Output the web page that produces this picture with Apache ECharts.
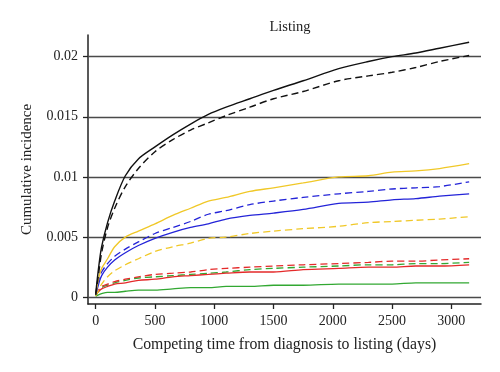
<!DOCTYPE html>
<html>
<head>
<meta charset="utf-8">
<script src="https://cdn.jsdelivr.net/npm/echarts@6/dist/echarts.min.js"></script>
<style>html,body{margin:0;padding:0;background:#fff}#c{width:500px;height:372px}</style>
</head>
<body>
<div id="c"></div>
<script>
const days = [0, 25, 50, 100, 160, 250, 360, 500, 650, 800, 950, 1100, 1300, 1500, 1750, 2050, 2300, 2500, 2700, 2900, 3150];
const blackSolid  = [0.0003,0.0025,0.0042,0.0062,0.0080,0.0101,0.0115,0.0125,0.0135,0.0144,0.0152,0.0158,0.0165,0.0172,0.0180,0.0190,0.0196,0.0200,0.0203,0.0207,0.0212];
const blackDashed = [0.0002,0.0020,0.0037,0.0058,0.0074,0.0092,0.0107,0.0121,0.0131,0.0139,0.0145,0.0151,0.0158,0.0165,0.0171,0.0180,0.0184,0.0187,0.0191,0.0196,0.0201];
const yellowSolid = [0.0002,0.0016,0.0024,0.0032,0.0042,0.0050,0.0055,0.0061,0.0068,0.0074,0.0080,0.0083,0.0088,0.0091,0.0095,0.0100,0.0101,0.0104,0.0105,0.0107,0.0111];
const yellowDashed= [0.0001,0.0006,0.0011,0.0017,0.0022,0.0027,0.0032,0.0038,0.0042,0.0045,0.0049,0.0050,0.0053,0.0055,0.0057,0.0059,0.0062,0.0063,0.0064,0.0065,0.0067];
const blueSolid   = [0.0002,0.0011,0.0018,0.0025,0.0031,0.0037,0.0043,0.0049,0.0054,0.0058,0.0061,0.0065,0.0068,0.0070,0.0073,0.0078,0.0079,0.0081,0.0082,0.0084,0.0086];
const blueDashed  = [0.0002,0.0014,0.0021,0.0028,0.0034,0.0040,0.0046,0.0053,0.0058,0.0063,0.0069,0.0072,0.0077,0.0080,0.0083,0.0086,0.0088,0.0090,0.0091,0.0092,0.0096];
const redSolid    = [0.0002,0.0005,0.0007,0.0009,0.0011,0.0012,0.0014,0.0015,0.0017,0.0018,0.0019,0.0020,0.0021,0.0021,0.0023,0.0024,0.0025,0.0025,0.0026,0.0026,0.0027];
const redDashed   = [0.0002,0.0006,0.0009,0.0011,0.0013,0.0015,0.0017,0.0019,0.0020,0.0021,0.0023,0.0024,0.0025,0.0026,0.0027,0.0028,0.0029,0.0030,0.0030,0.0031,0.0032];
const greenSolid  = [0.0001,0.0002,0.0003,0.0004,0.0004,0.0005,0.0006,0.0006,0.0007,0.0008,0.0008,0.0009,0.0009,0.0010,0.0010,0.0011,0.0011,0.0011,0.0012,0.0012,0.0012];
const greenDashed = [0.0001,0.0005,0.0008,0.0010,0.0012,0.0014,0.0016,0.0017,0.0018,0.0019,0.0020,0.0021,0.0023,0.0024,0.0025,0.0026,0.0027,0.0027,0.0028,0.0028,0.0029];
const xTicks = [0, 500, 1000, 1500, 2000, 2500, 3000];
const yTicks = [0, 0.005, 0.01, 0.015, 0.02];
const titleText = 'Listing';
const xName = 'Competing time from diagnosis to listing (days)';
const yName = 'Cumulative incidence';

const FONT = '"Liberation Serif", "DejaVu Serif", serif';
const chart = echarts.init(document.getElementById('c'), null, {renderer: 'canvas'});

function mk(name, vals, color, dashed, width) {
  return {
    name: name, type: 'line', showSymbol: false, smooth: 0.3, silent: true,
    data: days.map((d, i) => [d, vals[i]]),
    lineStyle: {color: color, width: width, type: dashed ? [7, 4] : 'solid'},
    z: 3
  };
}
const YEL = '#f0c828', BLU = '#2424d8', RED = '#e42a2a', GRN = '#32a832';
const series = [
  mk('green solid', greenSolid, GRN, false, 1.3),
  mk('green dashed', greenDashed, GRN, true, 1.3),
  mk('red solid', redSolid, RED, false, 1.3),
  mk('red dashed', redDashed, RED, true, 1.3),
  mk('yellow dashed', yellowDashed, YEL, true, 1.3),
  mk('blue solid', blueSolid, BLU, false, 1.3),
  mk('blue dashed', blueDashed, BLU, true, 1.3),
  mk('yellow solid', yellowSolid, YEL, false, 1.3),
  mk('black dashed', blackDashed, '#111', true, 1.4),
  mk('black solid', blackSolid, '#111', false, 1.4)
];
series[0].markLine = {
  silent: true, symbol: ['none', 'none'], label: {show: false}, precision: 6,
  lineStyle: {color: '#4a4a4a', width: 1.4, type: 'solid'},
  data: yTicks.map(v => ({yAxis: v})), z: 1
};

const fmt = v => String(v);

chart.setOption({
  backgroundColor: '#fff',
  animation: false,
  title: {text: titleText, left: 285, top: 15, textAlign: 'center',
    textStyle: {fontFamily: FONT, fontSize: 14.5, fontWeight: 'normal', color: '#222'}},
  grid: {left: 88, right: 19, top: 35, bottom: 68, containLabel: false},
  xAxis: {
    type: 'value', min: -65, max: 3250,
    name: xName, nameLocation: 'middle', nameGap: 33,
    nameTextStyle: {fontFamily: FONT, fontSize: 15.8, color: '#222'},
    axisLine: {show: true, onZero: false, lineStyle: {color: '#222', width: 1.5}},
    axisTick: {show: true, length: 5, customValues: xTicks, lineStyle: {color: '#222', width: 1.3}},
    axisLabel: {customValues: xTicks, formatter: fmt, margin: 10, fontFamily: FONT, fontSize: 14, color: '#222'},
    splitLine: {show: false}
  },
  yAxis: {
    type: 'value', min: -0.00056, max: 0.0218,
    name: yName, nameLocation: 'middle', nameGap: 53, nameRotate: 90,
    nameTextStyle: {fontFamily: FONT, fontSize: 15, color: '#222'},
    axisLine: {show: true, onZero: false, lineStyle: {color: '#222', width: 1.5}},
    axisTick: {show: true, length: 5, customValues: yTicks, lineStyle: {color: '#222', width: 1.3}},
    axisLabel: {customValues: yTicks, formatter: fmt, margin: 10, fontFamily: FONT, fontSize: 14, color: '#222'},
    splitLine: {show: false}
  },
  series: series
});
</script>
</body>
</html>
